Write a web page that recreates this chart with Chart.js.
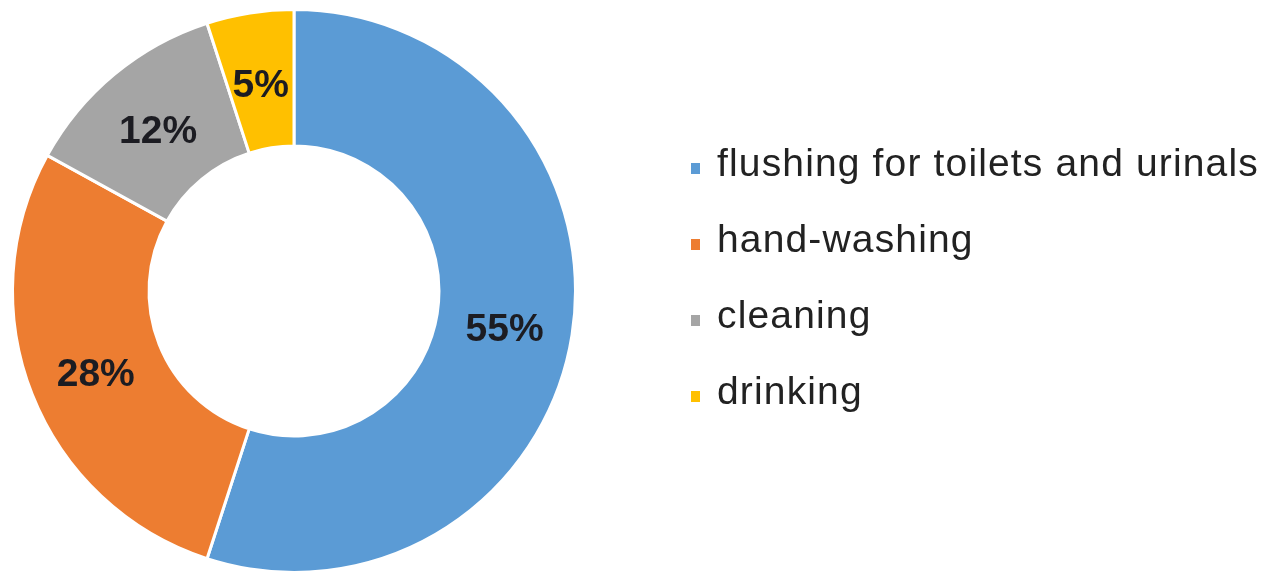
<!DOCTYPE html>
<html>
<head>
<meta charset="utf-8">
<script src="https://cdn.jsdelivr.net/npm/chart.js@4"></script>
<style>
    body { margin: 0; background: #ffffff; }
    #wrap { position: relative; width: 1266px; height: 574px; }
    #usage_legend {
        position: absolute;
        left: 691px;
        top: 140px;
        font-family: "Liberation Sans", Arial, sans-serif;
        font-size: 39px;
        letter-spacing: 1.15px;
        color: #222222;
    }
    .legend_row { height: 76px; line-height: 46px; white-space: nowrap; }
    .legend_box {
        display: inline-block;
        width: 9px;
        height: 11px;
        margin-right: 17px;
        vertical-align: 2px;
    }
</style>
</head>
<body>
<div id="wrap">
    <canvas id="usage_canvas" width="1266" height="574"></canvas>
    <div id="usage_legend"></div>
</div>
<script>
var usage_labels = ["flushing for toilets and urinals", "hand-washing", "cleaning", "drinking"]
var usage_percent = [55, 28, 12, 5]
var usage_colors = ["#5b9bd5", "#ed7d31", "#a5a5a5", "#ffc000"]

// writes the percentage in the middle of each ring segment
var segmentLabels = {
    id: "segmentLabels",
    afterDatasetsDraw: function(chart) {
        var ctx = chart.ctx
        var meta = chart.getDatasetMeta(0)
        ctx.save()
        ctx.font = "bold 39px 'Liberation Sans', Arial, sans-serif"
        ctx.fillStyle = "#1c1c22"
        ctx.textAlign = "center"
        ctx.textBaseline = "middle"
        for (var i = 0; i < meta.data.length; i++) {
            var pos = meta.data[i].tooltipPosition()
            ctx.fillText(chart.data.datasets[0].data[i] + "%", pos.x, pos.y + 6)
        }
        ctx.restore()
    }
}

new Chart(document.getElementById("usage_canvas"), {
    type: "doughnut",
    data: {
        labels: usage_labels,
        datasets: [{
            data: usage_percent,
            backgroundColor: usage_colors,
            borderColor: "#ffffff",
            borderWidth: 3
        }]
    },
    options: {
        responsive: false,
        animation: false,
        cutout: "51.5%",
        layout: {
            padding: { left: 9, right: 687, top: 8, bottom: 0 }
        },
        plugins: {
            legend: { display: false },
            tooltip: { enabled: false }
        }
    },
    plugins: [segmentLabels]
})

// legend on the right, built from the same label/colour arrays
var legend_div = document.getElementById("usage_legend")
for (var i = 0; i < usage_labels.length; i++) {
    var row = document.createElement("div")
    row.className = "legend_row"
    var box = document.createElement("span")
    box.className = "legend_box"
    box.style.background = usage_colors[i]
    row.appendChild(box)
    row.appendChild(document.createTextNode(usage_labels[i]))
    legend_div.appendChild(row)
}
</script>
</body>
</html>
